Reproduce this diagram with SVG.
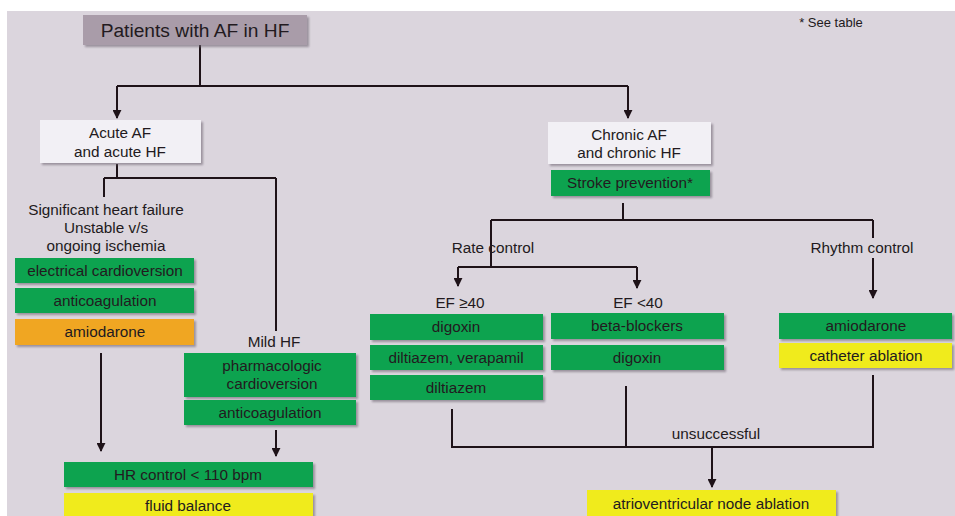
<svg xmlns="http://www.w3.org/2000/svg" width="955" height="516" viewBox="0 0 955 516">
<defs>
<marker id="ah" viewBox="0 0 10 10" refX="9" refY="5" markerWidth="9" markerHeight="9" markerUnits="userSpaceOnUse" orient="auto">
<path d="M0,0 L10,5 L0,10 z" fill="#1e1218"/>
</marker>
<filter id="sh" x="-5%" y="-20%" width="112%" height="150%">
<feDropShadow dx="2" dy="2" stdDeviation="1" flood-color="#6e6670" flood-opacity="0.6"/>
</filter>
</defs>
<style>
text{font-family:"Liberation Sans",Arial,sans-serif;font-size:15.3px;fill:#221a20;text-anchor:middle}
.title{font-size:19.2px}
.small{font-size:13px}
.g{fill:#0ba350}
.y{fill:#f0eb1e}
.o{fill:#f0a622}
.w{fill:#f2f0f5}
.t{fill:#a99ca9}
rect{filter:url(#sh)}
.c path{fill:none;stroke:#1e1218;stroke-width:2}
</style>
<rect x="0" y="0" width="955" height="516" fill="#ffffff" style="filter:none"/>
<rect x="7" y="11" width="948" height="505" fill="#dbd5dd" style="filter:none"/>

<g id="connectors" class="c">
<path d="M200,45 V86"/>
<path d="M117,86 H628"/>
<path d="M117,86 V118" marker-end="url(#ah)"/>
<path d="M628,86 V118" marker-end="url(#ah)"/>
<path d="M117,164 V178"/>
<path d="M104,178 H276"/>
<path d="M104,178 V197"/>
<path d="M276,178 V331"/>
<path d="M101,353 V451" marker-end="url(#ah)"/>
<path d="M276,430 V456" marker-end="url(#ah)"/>
<path d="M623,203 V220"/>
<path d="M491,220 H873"/>
<path d="M491,220 V267"/>
<path d="M873,220 V238"/>
<path d="M458,267 H637"/>
<path d="M458,267 V286" marker-end="url(#ah)"/>
<path d="M637,267 V288" marker-end="url(#ah)"/>
<path d="M873,258 V298" marker-end="url(#ah)"/>
<path d="M452,409 V447 H873 V375"/>
<path d="M626,386 V447"/>
<path d="M712,447 V487" marker-end="url(#ah)"/>
</g>

<g id="note"><text x="831" y="27" class="small">* See table</text></g>

<g id="n-patients"><rect class="t" x="83" y="15" width="224" height="30"/><text class="title" x="195" y="37">Patients with AF in HF</text></g>

<g id="n-acute"><rect class="w" x="40" y="120" width="161" height="43"/><text x="120" y="138">Acute AF</text><text x="120" y="157">and acute HF</text></g>

<g id="n-significant"><text x="106" y="215">Significant heart failure</text><text x="106" y="233">Unstable v/s</text><text x="106" y="251">ongoing ischemia</text></g>

<g id="n-elec"><rect class="g" x="15" y="258" width="179" height="25"/><text x="105" y="276">electrical cardioversion</text></g>
<g id="n-anticoag1"><rect class="g" x="15" y="288" width="179" height="25"/><text x="105" y="306">anticoagulation</text></g>
<g id="n-amio1"><rect class="o" x="15" y="319" width="179" height="26"/><text x="105" y="337">amiodarone</text></g>

<g id="n-mild"><text x="274" y="347">Mild HF</text></g>
<g id="n-pharm"><rect class="g" x="184" y="353" width="172" height="44"/><text x="272" y="371">pharmacologic</text><text x="272" y="389">cardioversion</text></g>
<g id="n-anticoag2"><rect class="g" x="184" y="400" width="172" height="25"/><text x="270" y="418">anticoagulation</text></g>

<g id="n-hr"><rect class="g" x="64" y="462" width="249" height="25"/><text x="188" y="480">HR control &lt; 110 bpm</text></g>
<g id="n-fluid"><rect class="y" x="64" y="493" width="249" height="25"/><text x="188" y="511">fluid balance</text></g>

<g id="n-chronic"><rect class="w" x="548" y="122" width="163" height="42"/><text x="629" y="140">Chronic AF</text><text x="629" y="158">and chronic HF</text></g>
<g id="n-stroke"><rect class="g" x="551" y="170" width="159" height="26"/><text x="630" y="188">Stroke prevention*</text></g>

<g id="n-rate"><text x="493" y="253">Rate control</text></g>
<g id="n-rhythm"><text x="862" y="253">Rhythm control</text></g>

<g id="n-ef40"><text x="460" y="308">EF ≥40</text></g>
<g id="n-eflt40"><text x="638" y="308">EF &lt;40</text></g>

<g id="n-digoxin1"><rect class="g" x="370" y="314" width="173" height="26"/><text x="456" y="332">digoxin</text></g>
<g id="n-diltver"><rect class="g" x="370" y="345" width="173" height="25"/><text x="456" y="363">diltiazem, verapamil</text></g>
<g id="n-dilt"><rect class="g" x="370" y="375" width="173" height="25"/><text x="456" y="393">diltiazem</text></g>

<g id="n-beta"><rect class="g" x="551" y="313" width="173" height="26"/><text x="637" y="331">beta-blockers</text></g>
<g id="n-digoxin2"><rect class="g" x="551" y="345" width="173" height="25"/><text x="637" y="363">digoxin</text></g>

<g id="n-amio2"><rect class="g" x="779" y="313" width="173" height="26"/><text x="866" y="331">amiodarone</text></g>
<g id="n-cath"><rect class="y" x="779" y="343" width="173" height="25"/><text x="866" y="361">catheter ablation</text></g>

<g id="n-unsucc"><text x="716" y="439">unsuccessful</text></g>
<g id="n-avn"><rect class="y" x="587" y="490" width="249" height="28"/><text x="711" y="509">atrioventricular node ablation</text></g>
</svg>
